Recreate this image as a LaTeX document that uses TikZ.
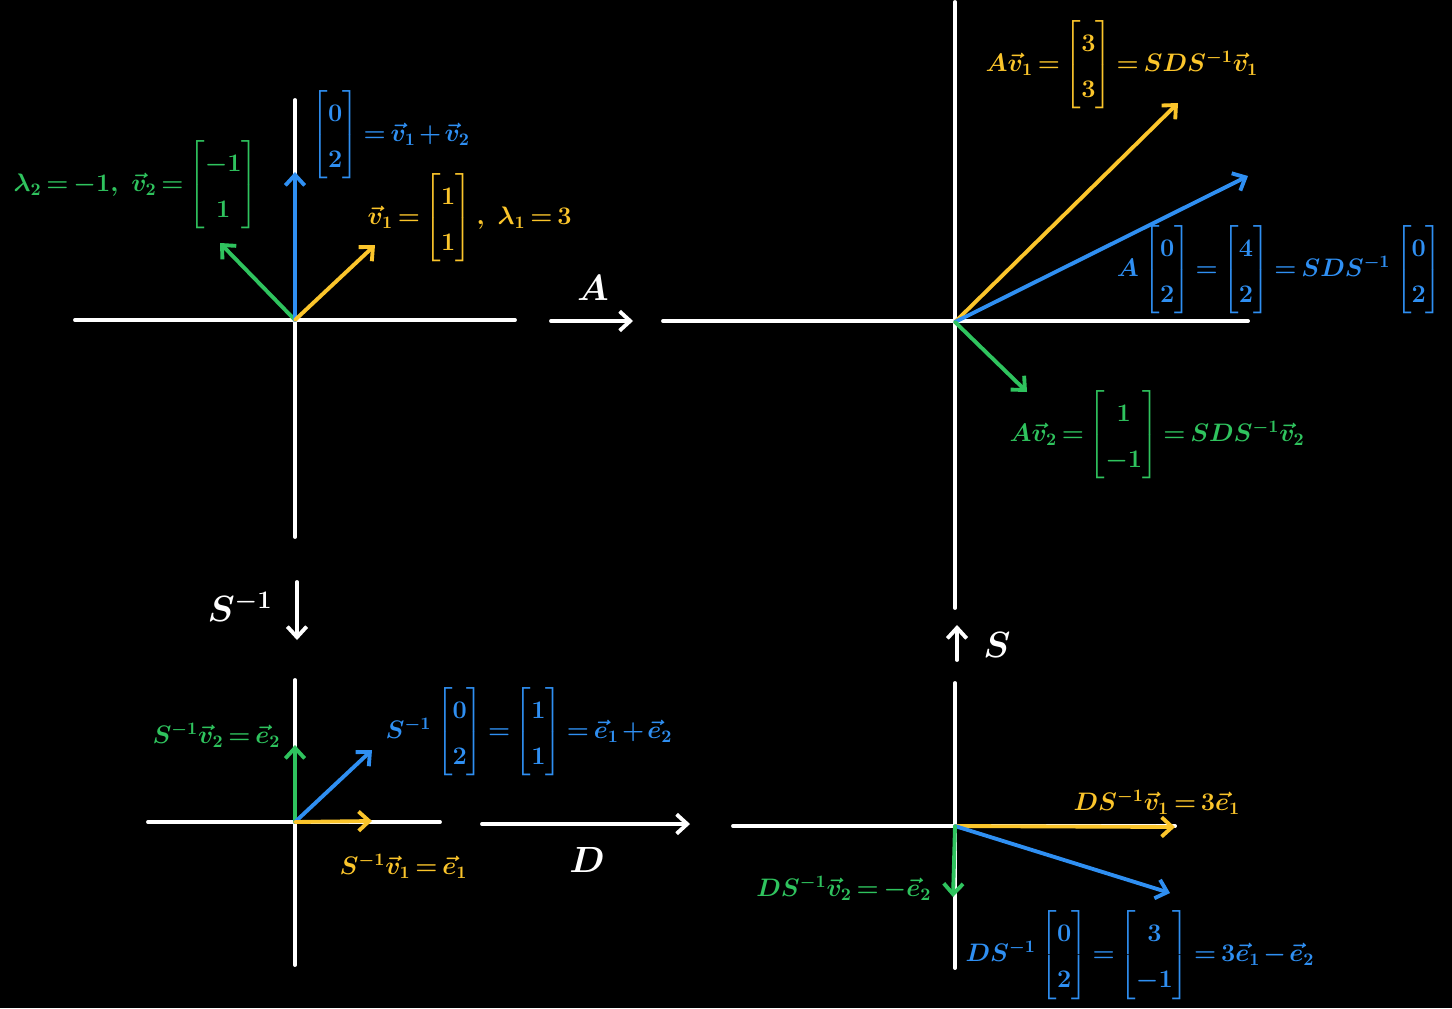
\documentclass[tikz,border=0pt]{standalone}
\usepackage{amsmath, amssymb}
\usepackage{tikz}
\usetikzlibrary{arrows.meta}
\definecolor{vgreen}{HTML}{2FC35E}
\definecolor{vblue}{HTML}{2F8FF2}
\definecolor{vyellow}{HTML}{FBC52B}
\renewcommand{\arraystretch}{1.55}
\thickmuskip=3mu
\medmuskip=2mu

\begin{document}
\begin{tikzpicture}[x=0.02cm, y=-0.02cm, line width=2.2pt, line cap=round,
    every node/.style={inner sep=1pt, font=\fontsize{14}{17}\selectfont\boldmath},
    map/.style={text=white, font=\fontsize{20}{24}\selectfont\boldmath},
    vec/.style={-{Straight Barb[length=6pt,width=11pt]}},
    axis/.style={white}]
    \useasboundingbox (0,0) rectangle (1452,1008);
    \fill[black] (0,0) rectangle (1452,1008);
    % Original basis
    \coordinate (o1) at (295,320);
    \draw[axis] (75,320) -- (515,320);
    \draw[axis] (295,100) -- (295,537);
    \coordinate (v2) at (220,243);
    \coordinate (w1) at (295,172);
    \coordinate (v1) at (375,245);
    \draw[vgreen,vec] (o1) -- (v2);
    \draw[vblue,vec] (o1) -- (w1);
    \draw[vyellow,vec] (o1) -- (v1);
    \node[text=vgreen,anchor=west] (l-v2) at (10,185) {$\lambda_2=-1,\ \vec v_2=\begin{bmatrix}-1\\1\end{bmatrix}$};
    \node[text=vblue,anchor=west] (l-w1) at (308,135) {$\begin{bmatrix}0\\2\end{bmatrix}=\vec v_1+\vec v_2$};
    \node[text=vyellow,anchor=west] (l-v1) at (364,218) {$\vec v_1=\begin{bmatrix}1\\1\end{bmatrix},\ \lambda_1=3$};
    % A
    \coordinate (a-start) at (551,321);
    \coordinate (a-end) at (633,321);
    \draw[white,vec] (a-start) -- (a-end);
    \node[map] (l-a) at (593,288) {$A$};
    % Image under A
    \coordinate (o2) at (955,322);
    \draw[axis] (663,321) -- (1248,321);
    \draw[axis] (955,2) -- (955,608);
    \coordinate (av1) at (1178,103);
    \coordinate (aw) at (1248,176);
    \coordinate (av2) at (1027,392);
    \draw[vyellow,vec] (o2) -- (av1);
    \draw[vblue,vec] (o2) -- (aw);
    \draw[vgreen,vec] (o2) -- (av2);
    \node[text=vyellow,anchor=west] (l-av1) at (982,65) {$A\vec v_1=\begin{bmatrix}3\\3\end{bmatrix}=SDS^{-1}\vec v_1$};
    \node[text=vblue,anchor=east] (l-aw) at (1446,270) {$A\begin{bmatrix}0\\2\end{bmatrix}=\begin{bmatrix}4\\2\end{bmatrix}=SDS^{-1}\begin{bmatrix}0\\2\end{bmatrix}$};
    \node[text=vgreen,anchor=west] (l-av2) at (1006,435) {$A\vec v_2=\begin{bmatrix}1\\-1\end{bmatrix}=SDS^{-1}\vec v_2$};
    % S^{-1} and S
    \coordinate (si-start) at (297,582);
    \coordinate (si-end) at (297,640);
    \draw[white,vec] (si-start) -- (si-end);
    \node[map] (l-si) at (240,607) {$S^{-1}$};
    \coordinate (s-start) at (957,660);
    \coordinate (s-end) at (957,625);
    \draw[white,vec] (s-start) -- (s-end);
    \node[map] (l-s) at (997,645) {$S$};
    % Eigenbasis
    \coordinate (o3) at (295,822);
    \draw[axis] (148,822) -- (440,822);
    \draw[axis] (295,680) -- (295,965);
    \coordinate (e2) at (295,745);
    \coordinate (e12) at (372,750);
    \coordinate (e1) at (372,821);
    \draw[vgreen,vec] (o3) -- (e2);
    \draw[vblue,vec] (o3) -- (e12);
    \draw[vyellow,vec] (o3) -- (e1);
    \node[text=vgreen,anchor=east] (l-e2) at (284,735) {$S^{-1}\vec v_2=\vec e_2$};
    \node[text=vblue,anchor=west] (l-e12) at (382,732) {$S^{-1}\begin{bmatrix}0\\2\end{bmatrix}=\begin{bmatrix}1\\1\end{bmatrix}=\vec e_1+\vec e_2$};
    \node[text=vyellow,anchor=west] (l-e1) at (336,866) {$S^{-1}\vec v_1=\vec e_1$};
    % D
    \coordinate (d-start) at (482,824);
    \coordinate (d-end) at (690,824);
    \draw[white,vec] (d-start) -- (d-end);
    \node[map] (l-d) at (587,860) {$D$};
    % Image under D
    \coordinate (o4) at (955,826);
    \draw[axis] (733,826) -- (1175,826);
    \draw[axis] (955,683) -- (955,968);
    \coordinate (de1) at (1175,827);
    \coordinate (dw) at (1170,893);
    \coordinate (de2) at (953,897);
    \draw[vyellow,vec] (o4) -- (de1);
    \draw[vblue,vec] (o4) -- (dw);
    \draw[vgreen,vec] (o4) -- (de2);
    \node[text=vyellow,anchor=west] (l-de1) at (1070,802) {$DS^{-1}\vec v_1=3\vec e_1$};
    \node[text=vgreen,anchor=east] (l-de2) at (935,888) {$DS^{-1}\vec v_2=-\vec e_2$};
    \node[text=vblue,anchor=west] (l-dw) at (962,955) {$DS^{-1}\begin{bmatrix}0\\2\end{bmatrix}=\begin{bmatrix}3\\-1\end{bmatrix}=3\vec e_1-\vec e_2$};
\end{tikzpicture}
\end{document}
